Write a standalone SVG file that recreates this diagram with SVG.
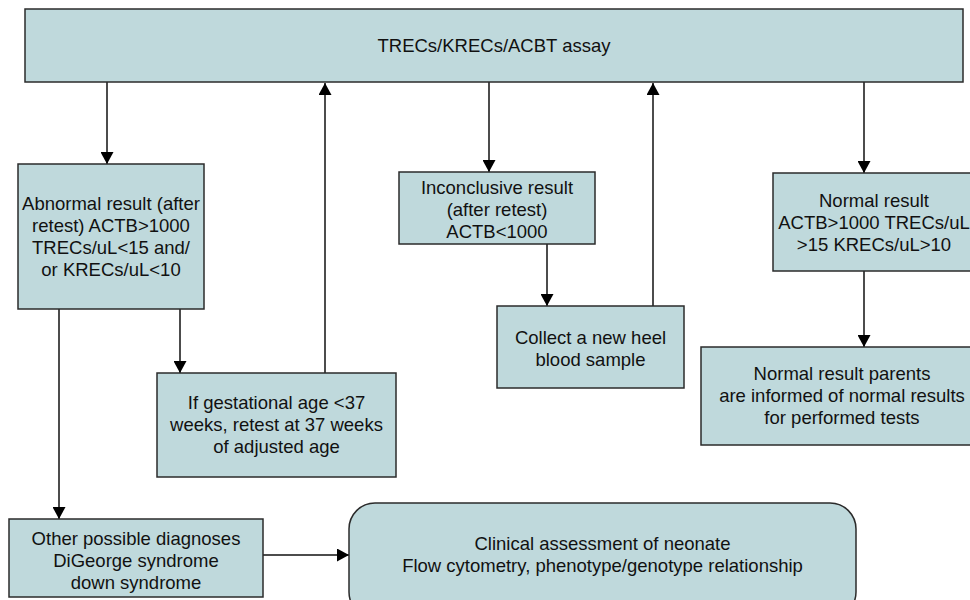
<svg xmlns="http://www.w3.org/2000/svg" width="970" height="600" viewBox="0 0 970 600">
<style>
.box{fill:#bfd9dc;stroke:#2b2b2b;stroke-width:1.5}
.t{font-family:"Liberation Sans",Arial,Helvetica,sans-serif;font-size:18.5px;fill:#111;text-anchor:middle}
.c{fill:none;stroke:#111;stroke-width:1.5}
</style>
<defs>
<marker id="ah" viewBox="0 0 12 13" refX="12" refY="6.5" markerWidth="12" markerHeight="13" markerUnits="userSpaceOnUse" orient="auto">
<path d="M0,0 L12,6.5 L0,13 z" fill="#000"/>
</marker>
</defs>
<rect width="970" height="600" fill="#fff"/>
<g id="connectors">
<line class="c" x1="107" y1="82" x2="107" y2="164" marker-end="url(#ah)"/>
<line class="c" x1="325" y1="373" x2="325" y2="83" marker-end="url(#ah)"/>
<line class="c" x1="489" y1="82" x2="489" y2="172" marker-end="url(#ah)"/>
<line class="c" x1="653" y1="306" x2="653" y2="83" marker-end="url(#ah)"/>
<line class="c" x1="864" y1="82" x2="864" y2="173" marker-end="url(#ah)"/>
<line class="c" x1="59" y1="309" x2="59" y2="519" marker-end="url(#ah)"/>
<line class="c" x1="180" y1="309" x2="180" y2="373" marker-end="url(#ah)"/>
<line class="c" x1="547" y1="244" x2="547" y2="306" marker-end="url(#ah)"/>
<line class="c" x1="864" y1="271" x2="864" y2="347" marker-end="url(#ah)"/>
<line class="c" x1="263" y1="555" x2="349" y2="555" marker-end="url(#ah)"/>
</g>
<g id="assay">
<rect class="box" x="25" y="9" width="938" height="73"/>
<text class="t" x="494" y="51.5">TRECs/KRECs/ACBT assay</text>
</g>
<g id="abnormal">
<rect class="box" x="18" y="164" width="186" height="145"/>
<text class="t" x="111" y="210">Abnormal result (after</text>
<text class="t" x="111" y="232">retest) ACTB&gt;1000</text>
<text class="t" x="111" y="254">TRECs/uL&lt;15 and/</text>
<text class="t" x="111" y="276">or KRECs/uL&lt;10</text>
</g>
<g id="gestational">
<rect class="box" x="157" y="373" width="239" height="104"/>
<text class="t" x="276.5" y="408.5">If gestational age &lt;37</text>
<text class="t" x="276.5" y="430.5">weeks, retest at 37 weeks</text>
<text class="t" x="276.5" y="452.5">of adjusted age</text>
</g>
<g id="inconclusive">
<rect class="box" x="399" y="172" width="196" height="72"/>
<text class="t" x="497" y="193.5">Inconclusive result</text>
<text class="t" x="497" y="215.5">(after retest)</text>
<text class="t" x="497" y="237.5">ACTB&lt;1000</text>
</g>
<g id="collect">
<rect class="box" x="497" y="306" width="187" height="82"/>
<text class="t" x="590.5" y="343.5">Collect a new heel</text>
<text class="t" x="590.5" y="365.5">blood sample</text>
</g>
<g id="normal">
<rect class="box" x="773" y="173" width="202" height="98"/>
<text class="t" x="874" y="206.5">Normal result</text>
<text class="t" x="874" y="228.5">ACTB&gt;1000 TRECs/uL</text>
<text class="t" x="874" y="250.5">&gt;15 KRECs/uL&gt;10</text>
</g>
<g id="parents">
<rect class="box" x="701" y="347" width="282" height="98"/>
<text class="t" x="842" y="380">Normal result parents</text>
<text class="t" x="842" y="402">are informed of normal results</text>
<text class="t" x="842" y="424">for performed tests</text>
</g>
<g id="other">
<rect class="box" x="9" y="519" width="254" height="78"/>
<text class="t" x="136" y="545">Other possible diagnoses</text>
<text class="t" x="136" y="567">DiGeorge syndrome</text>
<text class="t" x="136" y="589">down syndrome</text>
</g>
<g id="clinical">
<rect class="box" x="349" y="503" width="507" height="115" rx="26" ry="26"/>
<text class="t" x="602.5" y="549.5">Clinical assessment of neonate</text>
<text class="t" x="602.5" y="571.5">Flow cytometry, phenotype/genotype relationship</text>
</g>
</svg>
